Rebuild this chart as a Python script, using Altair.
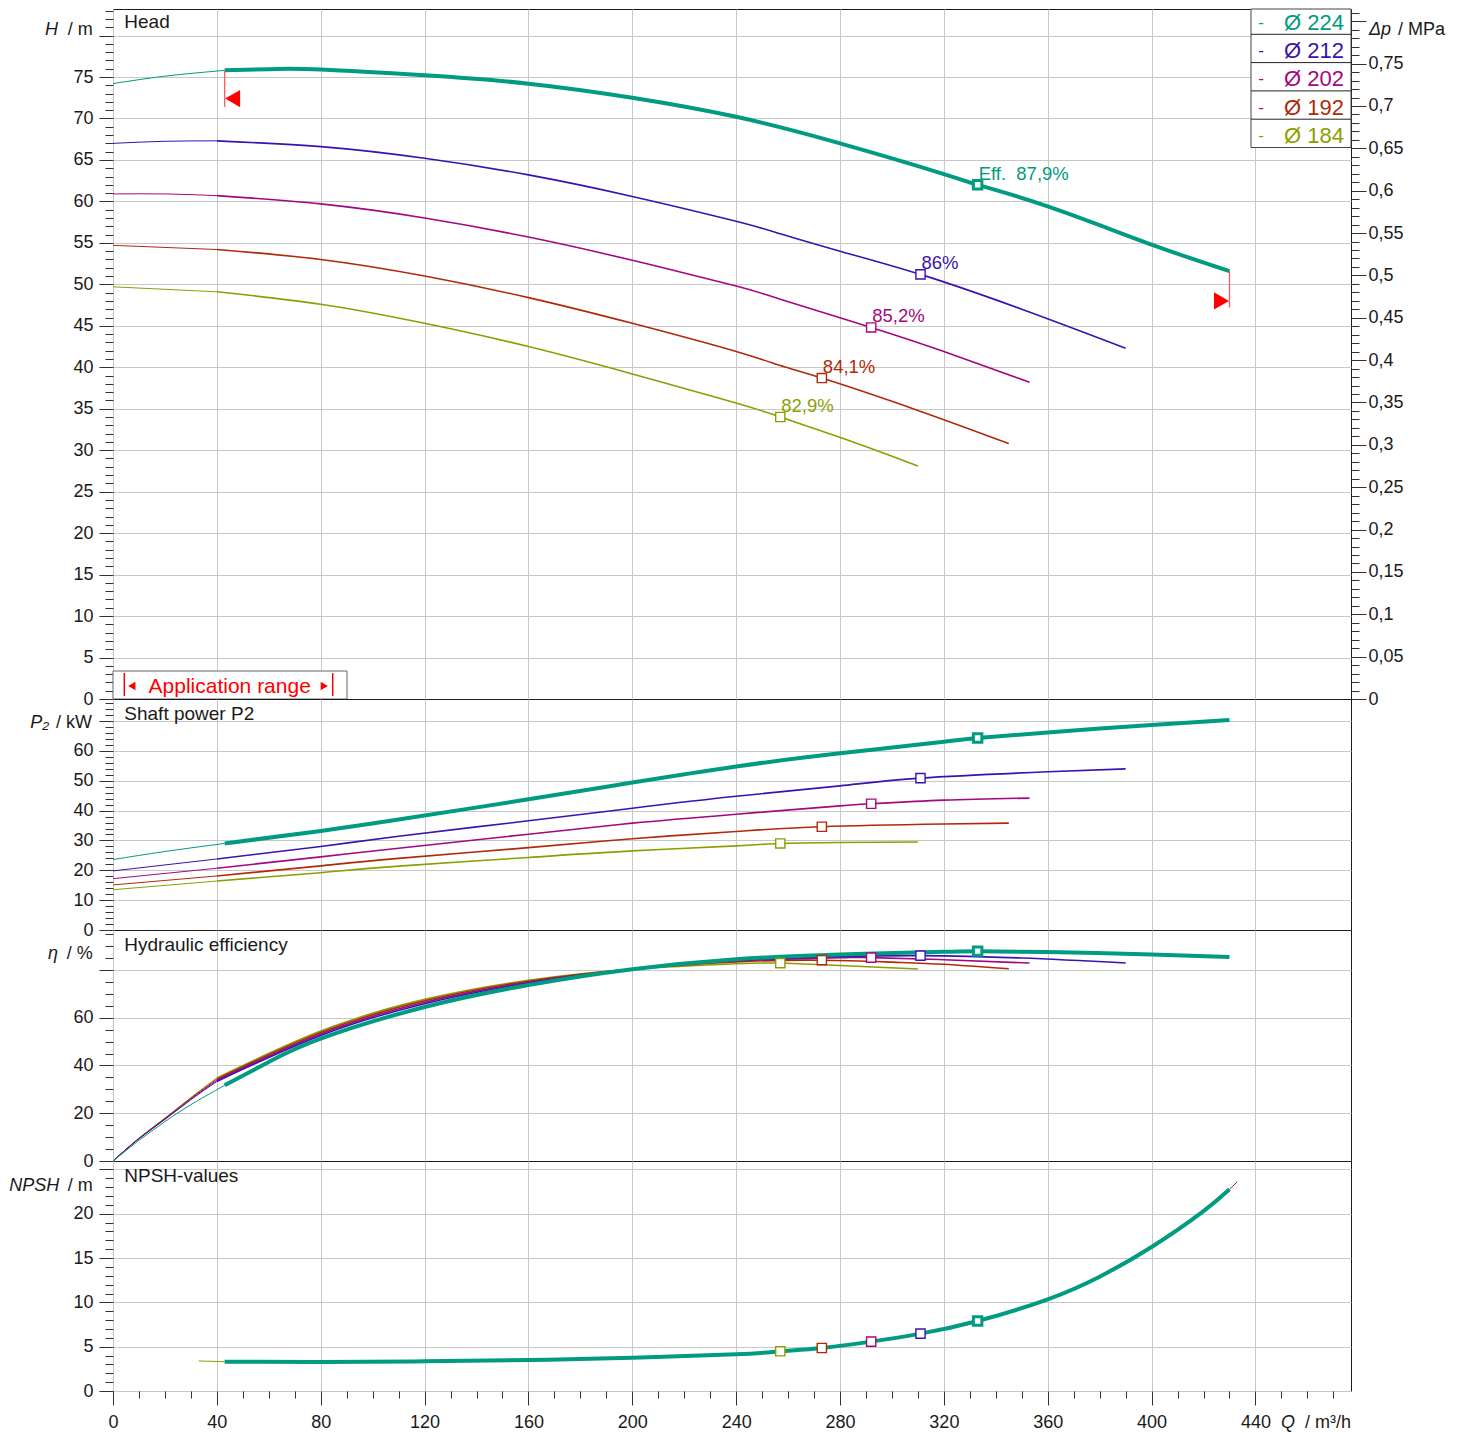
import altair as alt
import pandas as pd

FONT = "Liberation Sans"
GRID = "#c8c8c8"
TICK = "#333333"
INK = "#1a1a1a"
INTERP = "natural"

# ---------------- series identity ----------------
diameters = [224, 212, 202, 192, 184]
colors = ["#009b80", "#3b12b0", "#a3087f", "#b02a08", "#8b9f00"]
thin_until = [43, 40, 40, 40, 40]

# ---------------- Head H [m] ----------------
head_q_224 = [0, 20, 43, 60, 80, 120, 160, 200, 240, 280, 320, 333, 360, 400, 430]
head_224 = [74.2, 75.1, 75.8, 75.95, 75.9, 75.2, 74.2, 72.5, 70.2, 67.0, 63.3, 62.0, 59.4, 54.8, 51.6]
head_q_212 = [0, 20, 40, 80, 120, 160, 200, 240, 257, 280, 311, 350, 390]
head_212 = [67.0, 67.25, 67.3, 66.6, 65.2, 63.2, 60.6, 57.6, 56.1, 54.0, 51.2, 47.0, 42.3]
head_q_202 = [0, 20, 40, 80, 120, 160, 200, 240, 257, 292, 320, 353]
head_202 = [60.9, 60.9, 60.7, 59.7, 58.0, 55.7, 52.9, 49.8, 48.2, 44.8, 41.9, 38.2]
head_q_192 = [0, 40, 80, 120, 160, 200, 240, 257, 273, 310, 345]
head_192 = [54.7, 54.2, 53.0, 51.0, 48.4, 45.3, 41.9, 40.2, 38.7, 34.8, 30.8]
head_q_184 = [0, 40, 80, 120, 160, 200, 240, 257, 285, 310]
head_184 = [49.7, 49.1, 47.6, 45.3, 42.5, 39.2, 35.7, 34.0, 31.0, 28.1]

# ---------------- Shaft power P2 [kW] ----------------
pow_q_224 = [0, 20, 43, 80, 110, 160, 200, 240, 280, 320, 333, 360, 400, 430]
pow_224 = [23.6, 26.3, 29.0, 33.2, 37.0, 43.8, 49.4, 54.8, 59.2, 63.1, 64.3, 66.2, 68.7, 70.4]
pow_q_212 = [0, 40, 80, 110, 160, 200, 240, 280, 311, 360, 390]
pow_212 = [19.8, 23.8, 28.0, 31.4, 36.6, 40.8, 44.8, 48.3, 50.9, 53.0, 54.0]
pow_q_202 = [0, 40, 80, 110, 160, 200, 240, 280, 292, 320, 353]
pow_202 = [17.2, 20.7, 24.5, 27.4, 32.1, 35.8, 38.8, 41.6, 42.3, 43.5, 44.2]
pow_q_192 = [0, 40, 80, 110, 160, 200, 240, 273, 320, 345]
pow_192 = [15.1, 18.1, 21.5, 24.0, 27.6, 30.6, 33.0, 34.6, 35.5, 35.8]
pow_q_184 = [0, 40, 80, 110, 160, 200, 240, 257, 280, 310]
pow_184 = [13.5, 16.4, 19.2, 21.4, 24.3, 26.5, 28.2, 29.0, 29.3, 29.5]

# ---------------- Hydraulic efficiency [%] ----------------
eff_q_224 = [0, 10, 20, 30, 43, 60, 80, 120, 160, 200, 240, 280, 320, 333, 360, 400, 430]
eff_224 = [0, 8.6, 16.5, 23.6, 31.7, 41.5, 51.3, 64.5, 73.7, 80.3, 84.5, 86.5, 87.6, 87.9, 87.5, 86.5, 85.4]
eff_q_212 = [0, 10, 20, 30, 40, 80, 120, 160, 200, 240, 280, 311, 350, 390]
eff_212 = [0, 9.3, 17.4, 25.7, 33.3, 52.6, 65.9, 74.5, 80.4, 84.1, 85.6, 86.0, 85.0, 82.9]
eff_q_202 = [0, 10, 20, 30, 40, 80, 120, 160, 200, 240, 280, 292, 320, 353]
eff_202 = [0, 9.4, 17.6, 26.0, 33.8, 53.2, 66.5, 74.9, 80.4, 83.8, 85.1, 85.2, 84.3, 82.9]
eff_q_192 = [0, 10, 20, 30, 40, 80, 120, 160, 200, 240, 273, 300, 320, 345]
eff_192 = [0, 9.5, 17.8, 26.3, 34.3, 53.8, 67.1, 75.3, 80.4, 83.4, 84.1, 83.3, 82.4, 80.5]
eff_q_184 = [0, 10, 20, 30, 40, 80, 120, 160, 200, 240, 257, 280, 310]
eff_184 = [0, 9.6, 18.0, 26.6, 34.8, 54.4, 67.7, 75.7, 80.3, 82.6, 82.9, 81.9, 80.4]

# ---------------- NPSH [m] ----------------
npsh_q_224 = [43, 80, 120, 160, 200, 240, 257, 273, 292, 311, 333, 360, 380, 400, 420, 430]
npsh_224 = [3.31, 3.28, 3.35, 3.5, 3.75, 4.14, 4.48, 4.85, 5.57, 6.47, 7.9, 10.35, 12.9, 16.25, 20.3, 22.76]
npsh_q_184 = [33, 43]
npsh_184 = [3.39, 3.31]
npsh_q_192 = [430, 433]
npsh_192 = [22.76, 23.6]

# ---------------- duty points ----------------
bep_q = [333, 311, 292, 273, 257]
bep_head = [62.0, 51.2, 44.8, 38.7, 34.0]
bep_power = [64.3, 50.9, 42.3, 34.6, 29.0]
bep_eff = [87.9, 86.0, 85.2, 84.1, 82.9]
bep_npsh = [7.9, 6.47, 5.57, 4.85, 4.48]

# application range limits on the largest impeller
range_q = [43, 430]
range_top = [75.8, 51.6]
range_bottom = [71.4, 47.2]
range_arrow = [72.4, 48.0]

# ---------------- axis ticks ----------------
x_major = list(range(0, 441, 40))
x_minor = [v for v in range(0, 477, 10) if v % 40]
head_major = list(range(0, 81, 5))
head_minor = [v for v in range(0, 84) if v % 5]
mpa_major = [round(0.05 * i, 2) for i in range(17)]
mpa_minor = [round(0.01 * i, 2) for i in range(82) if i % 5]
pow_major = list(range(0, 71, 10))
pow_minor = [v for v in range(0, 78, 2) if v % 10]
eff_major = [0, 20, 40, 60, 80]
eff_minor = [v for v in range(0, 97, 5) if v % 20]
npsh_major = [0, 5, 10, 15, 20, 25]
npsh_minor = [v for v in range(0, 26) if v % 5]

W = 1238
H_HEAD, H_POW, H_EFF, H_NPSH = 690, 231, 231, 230
M_PER_MPA = 102.15

xs = alt.Scale(domain=[0, 476.8], nice=False, zero=False)
ys_head = alt.Scale(domain=[0, 83.2], nice=False, zero=False)
ys_mpa = alt.Scale(domain=[0, 83.2 / M_PER_MPA], nice=False, zero=False)
ys_pow = alt.Scale(domain=[0, 77.4], nice=False, zero=False)
ys_eff = alt.Scale(domain=[0, 96.75], nice=False, zero=False)
ys_npsh = alt.Scale(domain=[0, 25.95], nice=False, zero=False)
cscale = alt.Scale(domain=diameters, range=colors)

ANCHOR = pd.DataFrame({"x": [0.0], "y": [0.0]})


def axis_layer(ys, xaxis, yaxis):
    return alt.Chart(ANCHOR).mark_point(opacity=0).encode(
        x=alt.X("x:Q", scale=xs, axis=xaxis),
        y=alt.Y("y:Q", scale=ys, axis=yaxis),
    )


x_grid = alt.Axis(orient="bottom", values=x_major, grid=True, gridColor=GRID, gridWidth=1,
                  ticks=False, labels=False, domain=False, title=None)
x_lab = alt.Axis(orient="bottom", values=x_major, grid=True, gridColor=GRID, gridWidth=1,
                 ticks=True, tickSize=14, tickColor=TICK, tickWidth=1, labels=True,
                 labelFont=FONT, labelFontSize=18, labelColor=INK, labelPadding=8,
                 labelFlush=False, labelOverlap=False, domain=False, title=None)
x_min = alt.Axis(orient="bottom", values=x_minor, grid=False, ticks=True, tickSize=7,
                 tickColor=TICK, tickWidth=1, labels=False, domain=False, title=None)


def y_axis_pair(ys, major, minor, hide_at=None, orient="left", major_tick=14, minor_tick=8,
                label_pad=6, label_expr=None, grid=True, x_axis=None):
    expr = label_expr or f"datum.value >= {hide_at} ? '' : datum.label"
    major_ax = alt.Axis(orient=orient, values=major, grid=grid, gridColor=GRID, gridWidth=1,
                        tickSize=major_tick, tickColor=TICK, tickWidth=1, domain=False,
                        labelExpr=expr, labelFont=FONT, labelFontSize=18, labelColor=INK,
                        labelPadding=label_pad, labelOverlap=False, labelFlush=False, title=None)
    minor_ax = alt.Axis(orient=orient, values=minor, grid=False, tickSize=minor_tick,
                        tickColor=TICK, tickWidth=1, domain=False, labels=False, title=None)
    return [axis_layer(ys, x_axis, major_ax), axis_layer(ys, None, minor_ax)]


def curve_frame(q_lists, v_lists):
    rows = []
    for d, qs, vs, sp in reversed(list(zip(diameters, q_lists, v_lists, thin_until))):
        for q, v in zip(qs, vs):
            if q <= sp:
                rows.append({"dia": d, "Q": q, "v": v, "seg": "thin"})
            if q >= sp:
                rows.append({"dia": d, "Q": q, "v": v, "seg": "main"})
    return pd.DataFrame(rows)


def curve_layers(df, ys):
    base = alt.Chart(df).encode(
        x=alt.X("Q:Q", scale=xs, axis=None),
        y=alt.Y("v:Q", scale=ys, axis=None),
        color=alt.Color("dia:N", scale=cscale, legend=None),
    )
    thin = base.transform_filter("datum.seg == 'thin'").mark_line(strokeWidth=1.0, interpolate=INTERP)
    main = base.transform_filter("datum.seg == 'main' && datum.dia != 224").mark_line(
        strokeWidth=1.6, interpolate=INTERP)
    thick = base.transform_filter("datum.seg == 'main' && datum.dia == 224").mark_line(
        strokeWidth=4, interpolate=INTERP)
    return [thin, main, thick]


def pct(v):
    s = f"{v:.1f}".rstrip("0").rstrip(".")
    return s.replace(".", ",") + "%"


bep_labels = ["Eff.\u00a0\u00a0" + pct(bep_eff[0])] + [pct(v) for v in bep_eff[1:]]
bep_df = pd.DataFrame({"dia": diameters, "Q": bep_q, "head": bep_head, "power": bep_power,
                       "eff": bep_eff, "npsh": bep_npsh, "lab": bep_labels})


def marker_layer(field, ys):
    return alt.Chart(bep_df).mark_point(shape="square", filled=True, fill="white", opacity=1).encode(
        x=alt.X("Q:Q", scale=xs, axis=None),
        y=alt.Y(f"{field}:Q", scale=ys, axis=None),
        stroke=alt.Stroke("dia:N", scale=cscale, legend=None),
        strokeWidth=alt.condition("datum.dia == 224", alt.value(3), alt.value(1.4)),
        size=alt.condition("datum.dia == 224", alt.value(72), alt.value(85)),
    )


def label(txt, x, y, size=18, align="left", color=INK, italic=False):
    return alt.Chart(pd.DataFrame({"t": [txt]})).mark_text(
        align=align, baseline="middle", font=FONT, fontSize=size,
        fontStyle="italic" if italic else "normal", color=color,
    ).encode(x=alt.value(x), y=alt.value(y), text="t:N")


ONE = pd.DataFrame({"k": [0]})


def box(x, x2, y, y2, stroke):
    return alt.Chart(ONE).mark_rect(fill="white", stroke=stroke, strokeWidth=1).encode(
        x=alt.value(x), x2=alt.value(x2), y=alt.value(y), y2=alt.value(y2))


def hline(x, x2, y, color):
    return alt.Chart(ONE).mark_rule(color=color, strokeWidth=1).encode(
        x=alt.value(x), x2=alt.value(x2), y=alt.value(y))


def vline(x, y, y2, color, w=1.5):
    return alt.Chart(ONE).mark_rule(color=color, strokeWidth=w).encode(
        x=alt.value(x), y=alt.value(y), y2=alt.value(y2))


def tri(shape, x, y, size):
    return alt.Chart(ONE).mark_point(shape=shape, filled=True, color="#ff0000", size=size, opacity=1).encode(
        x=alt.value(x), y=alt.value(y))


# ---------------- HEAD panel ----------------
head_df = curve_frame([head_q_224, head_q_212, head_q_202, head_q_192, head_q_184],
                      [head_224, head_212, head_202, head_192, head_184])

range_df = pd.DataFrame({"q": range_q, "top": range_top, "bottom": range_bottom, "arrow": range_arrow})
range_rule = alt.Chart(range_df).mark_rule(color="#ff5a5a", strokeWidth=1.3).encode(
    x=alt.X("q:Q", scale=xs, axis=None),
    y=alt.Y("top:Q", scale=ys_head, axis=None),
    y2="bottom:Q",
)
arrow_start = alt.Chart(range_df.iloc[[0]]).mark_point(
    shape="triangle-left", filled=True, color="#ff0000", size=300, opacity=1, xOffset=8).encode(
    x=alt.X("q:Q", scale=xs, axis=None), y=alt.Y("arrow:Q", scale=ys_head, axis=None))
arrow_end = alt.Chart(range_df.iloc[[1]]).mark_point(
    shape="triangle-right", filled=True, color="#ff0000", size=300, opacity=1, xOffset=-8).encode(
    x=alt.X("q:Q", scale=xs, axis=None), y=alt.Y("arrow:Q", scale=ys_head, axis=None))

eff_text = alt.Chart(bep_df).mark_text(align="left", baseline="middle", dx=1, dy=-11,
                                       font=FONT, fontSize=18.5).encode(
    x=alt.X("Q:Q", scale=xs, axis=None),
    y=alt.Y("head:Q", scale=ys_head, axis=None),
    text="lab:N",
    color=alt.Color("dia:N", scale=cscale, legend=None),
)

legend_layers = [box(1138, 1238, 0, 138.5, "#444444")]
ROW = 28.3
for i, (d, c) in enumerate(zip(diameters, colors)):
    yc = 13.7 + ROW * i
    legend_layers.append(label("-", 1148, yc, size=17, align="center", color=c))
    legend_layers.append(label(f"Ø {d}", 1231, yc, size=22, align="right", color=c))
    if i < len(diameters) - 1:
        legend_layers.append(hline(1138, 1238, 25.3 + ROW * i, "#222222"))

app_layers = [
    box(0, 234, 662, 690, "#666666"),
    vline(11.3, 664, 687, "#ff0000"),
    vline(219.7, 664, 687, "#ff0000"),
    tri("triangle-left", 18.8, 677, 70),
    tri("triangle-right", 211.3, 677, 70),
    label("Application range", 116.7, 677.5, size=21, align="center", color="#ff0000"),
]

mpa_expr = "datum.value > 0.79 ? '' : replace(format(datum.value, '.2~f'), '.', ',')"

head_layers = (
    y_axis_pair(ys_head, head_major, head_minor, hide_at=80, x_axis=x_grid)
    + y_axis_pair(ys_mpa, mpa_major, mpa_minor, orient="right", major_tick=15, label_pad=2,
                  label_expr=mpa_expr, grid=False)
    + curve_layers(head_df, ys_head)
    + [range_rule, arrow_start, arrow_end, marker_layer("head", ys_head), eff_text]
    + legend_layers
    + app_layers
    + [
        label("Head", 11.3, 12.5, size=19),
        label("H", -61.5, 21.3, italic=True, align="center"),
        label("/ m", -20.3, 21.3, align="right"),
        label("Δp", 1256, 21.3, italic=True),
        label("/ MPa", 1285, 21.3),
    ]
)
head = alt.layer(*head_layers).properties(width=W, height=H_HEAD).resolve_scale(
    x="independent", y="independent")

# ---------------- POWER panel ----------------
pow_df = curve_frame([pow_q_224, pow_q_212, pow_q_202, pow_q_192, pow_q_184],
                     [pow_224, pow_212, pow_202, pow_192, pow_184])
pow_layers = (
    y_axis_pair(ys_pow, pow_major, pow_minor, hide_at=70, x_axis=x_grid)
    + curve_layers(pow_df, ys_pow)
    + [marker_layer("power", ys_pow)]
    + [
        label("Shaft power P2", 11.3, 15.3, size=19),
        label("P\u2082", -82.7, 23.7, italic=True),
        label("/ kW", -21, 23.7, align="right"),
    ]
)
power = alt.layer(*pow_layers).properties(width=W, height=H_POW).resolve_scale(
    x="independent", y="independent")

# ---------------- EFFICIENCY panel ----------------
eff_df = curve_frame([eff_q_224, eff_q_212, eff_q_202, eff_q_192, eff_q_184],
                     [eff_224, eff_212, eff_202, eff_192, eff_184])
eff_layers = (
    y_axis_pair(ys_eff, eff_major, eff_minor, hide_at=80, x_axis=x_grid)
    + curve_layers(eff_df, ys_eff)
    + [marker_layer("eff", ys_eff)]
    + [
        label("Hydraulic efficiency", 11.3, 15, size=19),
        label("η", -60, 24, italic=True, align="center"),
        label("/ %", -20.3, 24, align="right"),
    ]
)
eff = alt.layer(*eff_layers).properties(width=W, height=H_EFF).resolve_scale(
    x="independent", y="independent")

# ---------------- NPSH panel ----------------
npsh_rows = (
    [{"dia": 184, "Q": q, "v": v, "seg": "thin"} for q, v in zip(npsh_q_184, npsh_184)]
    + [{"dia": 192, "Q": q, "v": v, "seg": "thin"} for q, v in zip(npsh_q_192, npsh_192)]
    + [{"dia": 224, "Q": q, "v": v, "seg": "main"} for q, v in zip(npsh_q_224, npsh_224)]
)
npsh_df = pd.DataFrame(npsh_rows)
npsh_layers = (
    y_axis_pair(ys_npsh, npsh_major, npsh_minor, hide_at=25, x_axis=x_lab)
    + [axis_layer(ys_npsh, x_min, None)]
    + curve_layers(npsh_df, ys_npsh)
    + [marker_layer("npsh", ys_npsh)]
    + [
        label("NPSH-values", 11.3, 15, size=19),
        label("NPSH", -103.7, 25, italic=True),
        label("/ m", -20.3, 25, align="right"),
        label("Q", 1168, 262, italic=True),
        label("/ m³/h", 1238, 262, align="right"),
    ]
)
npsh = alt.layer(*npsh_layers).properties(width=W, height=H_NPSH).resolve_scale(
    x="independent", y="independent")

chart = alt.vconcat(
    head, power, eff, npsh, spacing=0, bounds="flush",
    padding={"left": 0, "top": 0, "right": 0, "bottom": 0},
).configure_view(stroke="#1a1a1a", strokeWidth=1)

chart.save("out.html", embed_options={"renderer": "svg", "actions": False})
